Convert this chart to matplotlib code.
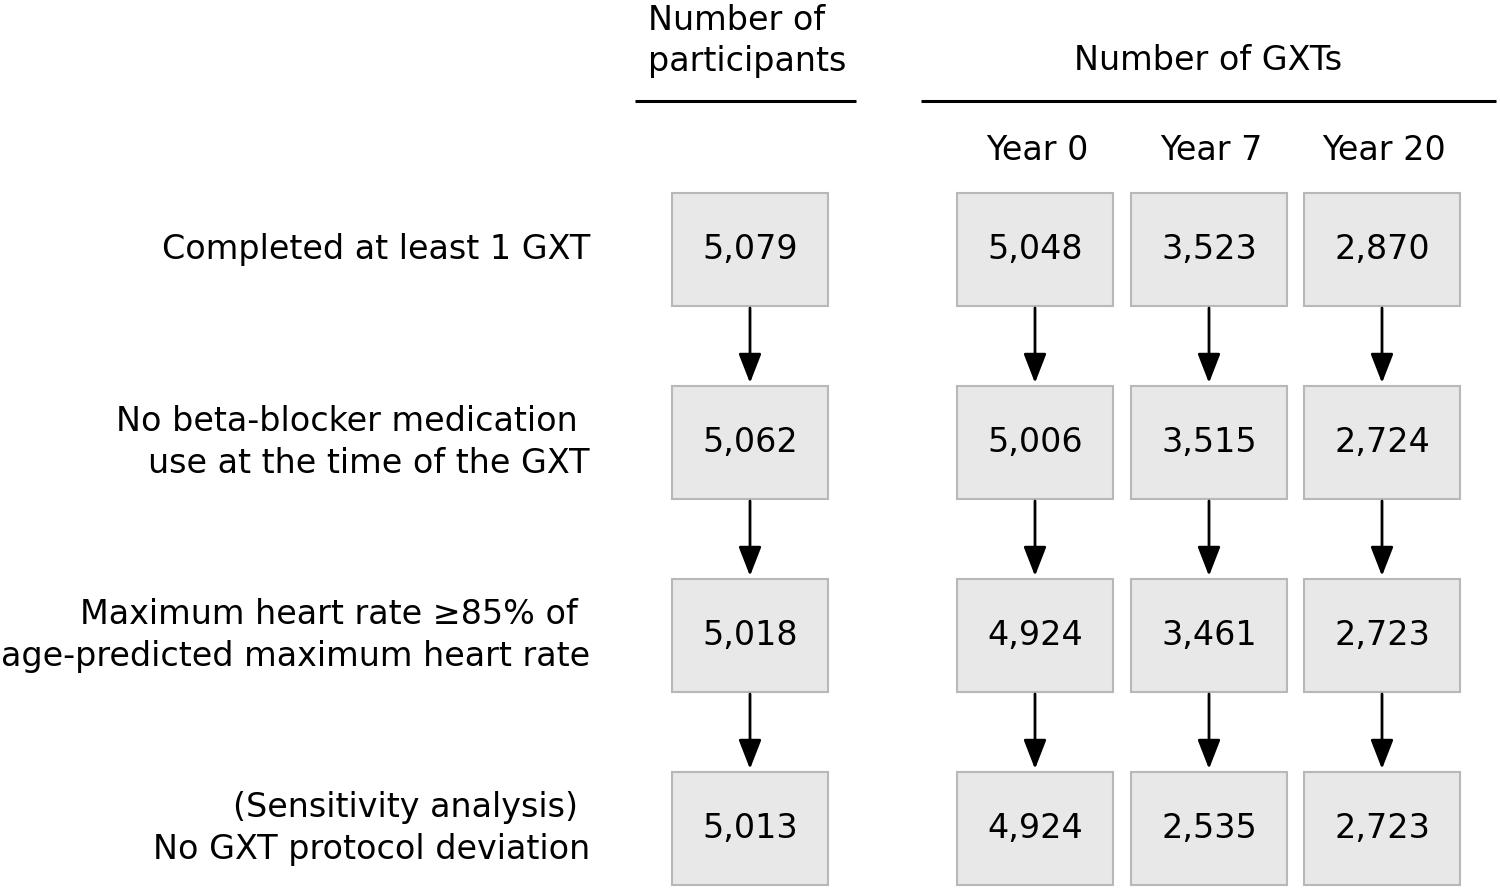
import matplotlib.pyplot as plt
from matplotlib.patches import Rectangle

row_labels = [
    ["Completed at least 1 GXT"],
    ["No beta-blocker medication ", "use at the time of the GXT"],
    ["Maximum heart rate \u226585% of ", "age-predicted maximum heart rate"],
    ["(Sensitivity analysis) ", "No GXT protocol deviation"],
]
participants = [5079, 5062, 5018, 5013]
year0 = [5048, 5006, 4924, 4924]
year7 = [3523, 3515, 3461, 2535]
year20 = [2870, 2724, 2723, 2723]
year_labels = ["Year 0", "Year 7", "Year 20"]

FS = 24
BOX_W, BOX_H = 156, 113
box_fc = "#e8e8e8"
box_ec = "#b8b8b8"


def draw_box(ax, cx, cy, value):
    ax.add_patch(Rectangle((cx - BOX_W / 2, cy - BOX_H / 2), BOX_W, BOX_H,
                           facecolor=box_fc, edgecolor=box_ec, linewidth=1.5))
    ax.text(cx, cy, f"{value:,}", ha="center", va="center", fontsize=FS)


def draw_arrow(ax, cx, y0, y1):
    ax.annotate("", xy=(cx, y1), xytext=(cx, y0),
                arrowprops=dict(arrowstyle="-|>,head_length=1.8,head_width=0.7",
                                color="black", lw=2, shrinkA=0, shrinkB=0))


def main():
    fig = plt.figure(figsize=(15, 8.9), dpi=100)
    ax = fig.add_axes([0, 0, 1, 1])
    ax.set_xlim(0, 1500)
    ax.set_ylim(890, 0)
    ax.axis("off")

    col_x = [750, 1035, 1209, 1382]
    row_y = [249.5, 442.5, 635.5, 828.5]
    columns = [participants, year0, year7, year20]

    # headers
    ax.text(648, 20, "Number of", ha="left", va="center", fontsize=FS)
    ax.text(648, 61, "participants", ha="left", va="center", fontsize=FS)
    ax.text(1208, 61, "Number of GXTs", ha="center", va="center", fontsize=FS)
    ax.plot([635, 856], [101, 101], color="black", lw=2.2, solid_capstyle="butt")
    ax.plot([921, 1496], [101, 101], color="black", lw=2.2, solid_capstyle="butt")
    for x, lab in zip(col_x[1:], year_labels):
        ax.text(x + 2, 150, lab, ha="center", va="center", fontsize=FS)

    # row labels
    for y, lines in zip(row_y, row_labels):
        if len(lines) == 1:
            ax.text(590, y, lines[0].rstrip(), ha="right", va="center", fontsize=FS)
        else:
            ax.text(578, y - 21, lines[0].rstrip(), ha="right", va="center", fontsize=FS)
            ax.text(590, y + 21, lines[1], ha="right", va="center", fontsize=FS)

    # boxes and arrows
    for x, vals in zip(col_x, columns):
        for i, (y, v) in enumerate(zip(row_y, vals)):
            draw_box(ax, x, y, v)
            if i < len(row_y) - 1:
                draw_arrow(ax, x, y + BOX_H / 2 + 2, row_y[i + 1] - BOX_H / 2 - 3)

    fig.savefig("out.png", dpi=100)


if __name__ == "__main__":
    main()
